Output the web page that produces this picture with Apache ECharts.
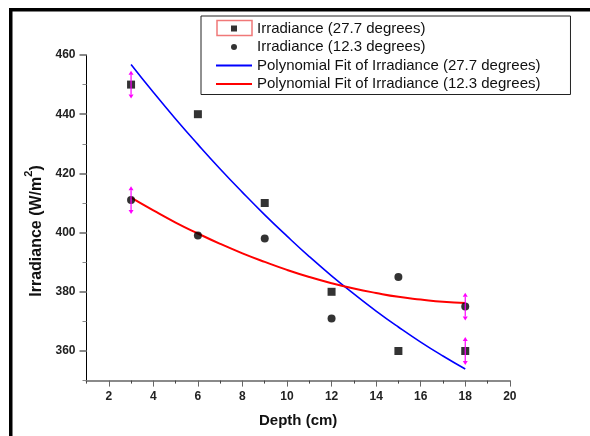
<!DOCTYPE html>
<html>
<head>
<meta charset="utf-8">
<script src="https://cdn.jsdelivr.net/npm/echarts@6/dist/echarts.min.js"></script>
<style>html,body{margin:0;padding:0;background:#fff;}#c{width:590px;height:436px;}</style>
</head>
<body>
<div id="c"></div>
<script>
// ---- data ----
var depth = [3, 6, 9, 12, 15, 18];
var irr277 = [450, 440, 410, 380, 360, 360];
var irr123 = [411, 399, 398, 371, 385, 375];
var fitX = [3, 4, 5, 6, 7, 8, 9, 10, 11, 12, 13, 14, 15, 16, 17, 18];
var fit277 = [456.8, 447.4, 438.4, 429.8, 421.5, 413.6, 406.0, 398.8, 391.9, 385.4, 379.3, 373.5, 368.1, 363.0, 358.3, 353.9];
var fit123 = [411.8, 407.5, 403.4, 399.7, 396.2, 393.0, 390.1, 387.4, 385.0, 382.9, 381.1, 379.6, 378.3, 377.4, 376.6, 376.2];
var errX = [3, 3, 18, 18];
var errY = [450, 411, 375, 360];
var errVal = [4.7, 4.7, 4.7, 4.7];
var xLabels = [2, 4, 6, 8, 10, 12, 14, 16, 18, 20];
var xMinor = [1, 3, 5, 7, 9, 11, 13, 15, 17, 19];
var yLabels = [360, 380, 400, 420, 440, 460];
var yMinor = [350, 370, 390, 410, 430, 450];
var names = ['Irradiance (27.7 degrees)', 'Irradiance (12.3 degrees)',
  'Polynomial Fit of Irradiance (27.7 degrees)', 'Polynomial Fit of Irradiance (12.3 degrees)'];

function zip(a, b) { return a.map(function (v, i) { return [v, b[i]]; }); }

var FONT = 'Arial, "Liberation Sans", sans-serif';
var chart = echarts.init(document.getElementById('c'), null, { renderer: 'canvas' });

var gridL = 86.5, gridT = 55, gridW = 423.3, gridH = 325.6;

var option = {
  animation: false,
  backgroundColor: '#fff',
  grid: { left: gridL, top: gridT, width: gridW, height: gridH, outerBoundsMode: 'none', containLabel: false },
  legend: {
    orient: 'vertical', left: 201, top: 16,
    itemWidth: 36, itemHeight: 6, itemGap: 3.5,
    padding: [5, 30, 3, 15],
    borderColor: '#222', borderWidth: 1, backgroundColor: '#fff',
    selectedMode: false,
    textStyle: { fontFamily: FONT, fontSize: 15, color: '#111' },
    data: [
      { name: names[0], icon: 'path://M0,0H6V6H0Z' },
      { name: names[1], icon: 'circle' },
      { name: names[2], icon: 'path://M0,0H36V2H0Z' },
      { name: names[3], icon: 'path://M0,0H36V2H0Z' }
    ]
  },
  xAxis: [{
    type: 'value', min: 1, max: 20,
    name: 'Depth (cm)', nameLocation: 'middle', nameGap: 33,
    nameTextStyle: { fontFamily: FONT, fontSize: 15, fontWeight: 'bold', color: '#111' },
    axisLine: { show: true, lineStyle: { color: '#8a8a8a', width: 2 } },
    axisTick: { show: true, inside: false, length: 6, customValues: xLabels, lineStyle: { color: '#666', width: 1 } },
    axisLabel: { customValues: xLabels, margin: 10, fontFamily: FONT, fontSize: 12, fontWeight: 'bold', color: '#222' },
    splitLine: { show: false }
  }, {
    type: 'value', min: 1, max: 20, position: 'bottom', offset: 0,
    axisLine: { show: false },
    axisTick: { show: true, inside: false, length: 3, customValues: xMinor, lineStyle: { color: '#444', width: 1 } },
    axisLabel: { show: false },
    splitLine: { show: false }
  }],
  yAxis: [{
    type: 'value', min: 350, max: 460,
    axisLine: { show: true, lineStyle: { color: '#000', width: 1 } },
    axisTick: { show: true, inside: false, length: 7, customValues: yLabels, lineStyle: { color: '#888', width: 2 } },
    axisLabel: { customValues: yLabels, margin: 11, fontFamily: FONT, fontSize: 12, fontWeight: 'bold', color: '#222' },
    splitLine: { show: false }
  }, {
    type: 'value', min: 350, max: 460, position: 'left', offset: 0,
    axisLine: { show: false },
    axisTick: { show: true, inside: false, length: 4, customValues: yMinor, lineStyle: { color: '#888', width: 1 } },
    axisLabel: { show: false },
    splitLine: { show: false }
  }],
  series: [
    {
      name: names[2], type: 'line', data: zip(fitX, fit277), smooth: true,
      showSymbol: false, symbol: 'none', color: '#0000ff',
      lineStyle: { color: '#0000ff', width: 1.6 }, z: 2
    },
    {
      name: names[3], type: 'line', data: zip(fitX, fit123), smooth: true,
      showSymbol: false, symbol: 'none', color: '#ff0000',
      lineStyle: { color: '#ff0000', width: 2 }, z: 2
    },
    {
      name: names[0], type: 'scatter', data: zip(depth, irr277), symbol: 'rect', symbolSize: 8,
      itemStyle: { color: '#000' }, z: 3
    },
    {
      name: names[1], type: 'scatter', data: zip(depth, irr123), symbol: 'circle', symbolSize: 8,
      itemStyle: { color: '#000' }, z: 3
    },
    {
      name: 'err', type: 'custom', z: 4,
      data: errX.map(function (x, i) { return [x, errY[i], errVal[i]]; }),
      renderItem: function (params, api) {
        var x = api.value(0), y = api.value(1), e = api.value(2);
        var t = api.coord([x, y + e]), b = api.coord([x, y - e]);
        var h = 4, w = 2.5, c = '#ff00ff';
        return {
          type: 'group', children: [
            { type: 'line', shape: { x1: t[0], y1: t[1] + h, x2: b[0], y2: b[1] - h }, style: { stroke: c, lineWidth: 1.2 } },
            { type: 'polygon', shape: { points: [[t[0], t[1]], [t[0] - w, t[1] + h], [t[0] + w, t[1] + h]] }, style: { fill: c } },
            { type: 'polygon', shape: { points: [[b[0], b[1]], [b[0] - w, b[1] - h], [b[0] + w, b[1] - h]] }, style: { fill: c } }
          ]
        };
      }
    }
  ],
  graphic: [
    { type: 'rect', shape: { x: 10, y: 8, width: 580, height: 3.5 }, style: { fill: '#000' }, z: 100 },
    { type: 'rect', shape: { x: 9, y: 8, width: 3.5, height: 428 }, style: { fill: '#000' }, z: 100 },
    { type: 'rect', shape: { x: 217, y: 20.5, width: 35, height: 15 }, style: { fill: 'none', stroke: '#f07878', lineWidth: 1.5 }, z: 100 },
    {
      type: 'text', x: 34, y: 231, rotation: Math.PI / 2, z: 100,
      style: {
        text: '{a|Irradiance (W/m}{s|2}{a|)}',
        align: 'center', verticalAlign: 'middle',
        rich: {
          a: { fontFamily: FONT, fontSize: 16, fontWeight: 'bold', fill: '#111', lineHeight: 22, verticalAlign: 'bottom' },
          s: { fontFamily: FONT, fontSize: 11, fontWeight: 'bold', fill: '#111', lineHeight: 22, verticalAlign: 'top' }
        }
      }
    }
  ]
};
chart.setOption(option);
</script>
</body>
</html>
